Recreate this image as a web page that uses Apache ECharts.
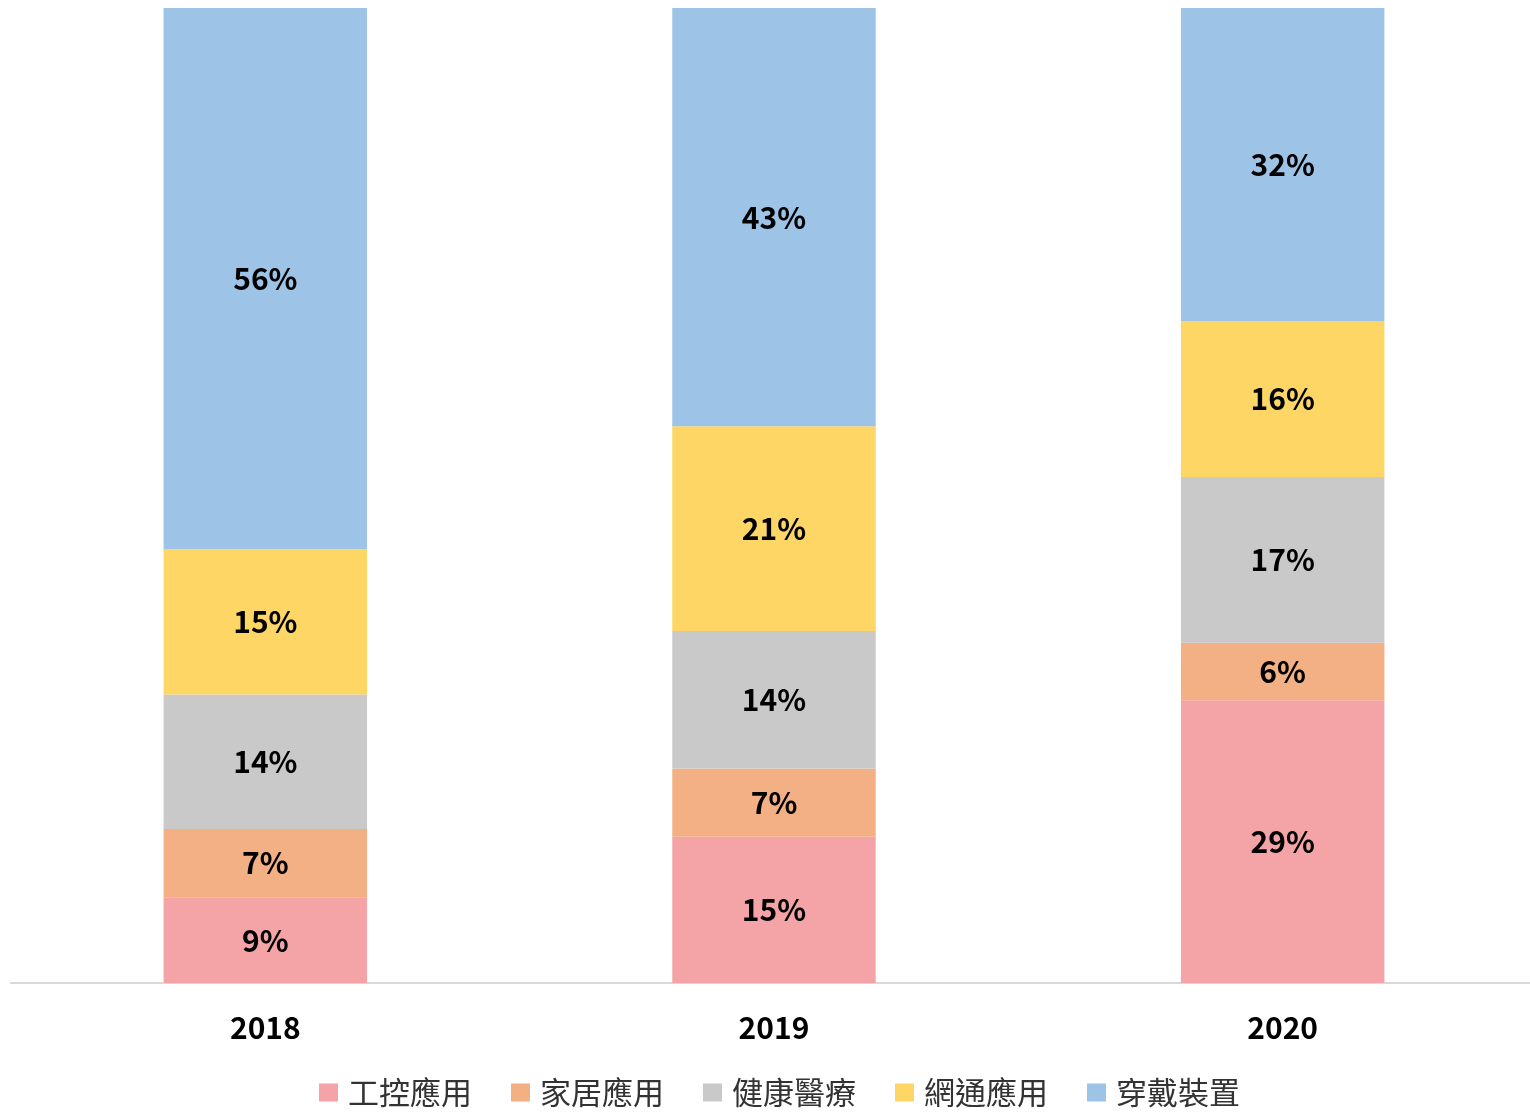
<!DOCTYPE html>
<html>
<head>
<meta charset="utf-8">
<script src="https://cdn.jsdelivr.net/npm/echarts@6/dist/echarts.min.js"></script>
<style>
  html, body { margin: 0; padding: 0; background: #fff; }
  #chart { width: 1530px; height: 1112px; }
</style>
</head>
<body>
<div id="chart"></div>
<script>
var years = ['2018', '2019', '2020'];
var names = ['工控應用', '家居應用', '健康醫療', '網通應用', '穿戴裝置'];
var colors = ['#F4A4A6', '#F2B084', '#C9C9C9', '#FDD666', '#9DC3E6'];
// 各年度佔比 (%)
var industrial = [8.8, 15.0, 29.0];
var home = [7.0, 7.0, 5.9];
var health = [13.8, 14.1, 17.0];
var network = [14.9, 21.0, 16.0];
var wearable = [55.5, 43.0, 32.1];
var seriesData = [industrial, home, health, network, wearable];

var font = '"Noto Sans CJK TC", "Noto Sans", sans-serif';

var series = names.map(function (n, i) {
  return {
    name: n,
    type: 'bar',
    stack: 'total',
    barWidth: '40%',
    itemStyle: { color: colors[i] },
    label: {
      show: true,
      position: 'inside',
      color: '#000',
      fontSize: 30,
      fontWeight: 'bold',
      fontFamily: font,
      formatter: function (p) { return Math.round(p.value) + '%'; }
    },
    data: seriesData[i]
  };
});

var chart = echarts.init(document.getElementById('chart'));
chart.setOption({
  animation: false,
  grid: { left: 11, width: 1526, top: 8, height: 975, containLabel: false, outerBoundsMode: 'none' },
  legend: {
    top: 1072,
    left: 314,
    itemWidth: 19,
    itemHeight: 18,
    itemGap: 39,
    icon: 'rect',
    textStyle: { fontSize: 31, color: '#333', fontFamily: font, padding: [0, 0, 0, 5] },
    data: names
  },
  xAxis: {
    type: 'category',
    data: years,
    axisLine: { lineStyle: { color: '#d9d9d9', width: 2 } },
    axisTick: { show: false },
    axisLabel: { fontSize: 30, fontWeight: 'bold', color: '#000', margin: 30, fontFamily: font }
  },
  yAxis: {
    type: 'value',
    min: 0,
    max: 100,
    show: false,
    splitLine: { show: false }
  },
  series: series
});
</script>
</body>
</html>
